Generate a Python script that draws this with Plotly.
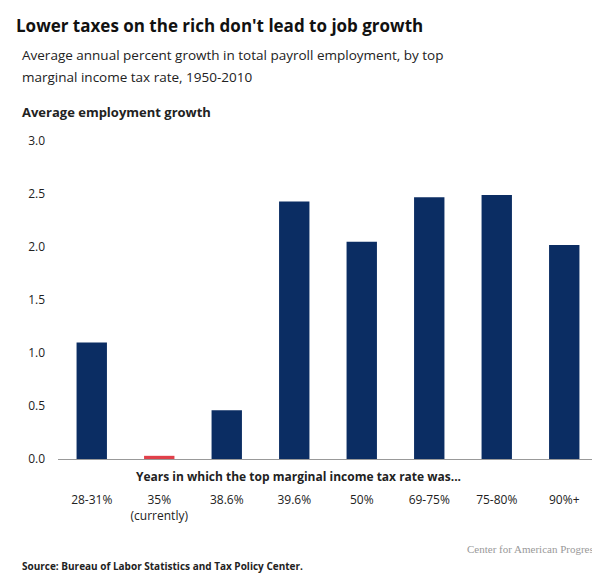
import plotly.graph_objects as go

categories = ["28-31%", "35%", "38.6%", "39.6%", "50%", "69-75%", "75-80%", "90%+"]
tick_labels = ["28-31%", "35%<br>(currently)", "38.6%", "39.6%", "50%", "69-75%", "75-80%", "90%+"]
growth = [1.10, 0.03, 0.46, 2.43, 2.05, 2.47, 2.49, 2.02]
bar_colors = ["#0b2d63", "#e0404a", "#0b2d63", "#0b2d63", "#0b2d63", "#0b2d63", "#0b2d63", "#0b2d63"]

fig = go.Figure(go.Bar(x=categories, y=growth, marker_color=bar_colors, marker_line_width=0))

fig.update_layout(
    width=600, height=578,
    margin=dict(l=50, r=10, t=133, b=127, autoexpand=False),
    paper_bgcolor="white", plot_bgcolor="white",
    font=dict(family="Open Sans", color="#222", size=12),
    bargap=0.55, showlegend=False,
)
fig.update_xaxes(
    tickvals=categories, ticktext=tick_labels, showgrid=False, automargin=False,
    showline=True, linecolor="#999", linewidth=1, ticks="",
    ticklabelstandoff=30, tickfont=dict(size=12),
)
fig.update_yaxes(
    range=[0, 3], dtick=0.5, tickformat=".1f", showgrid=False, zeroline=False,
    automargin=False, ticklabelstandoff=12, tickfont=dict(size=12),
)

# (text, x px, y px, size, colour)
annots = [
    ("<b>Lower taxes on the rich don't lead to job growth</b>", 6, 18, 17, "#111"),
    ("Average annual percent growth in total payroll employment, by top", 12, 47, 13.5, "#222"),
    ("marginal income tax rate, 1950-2010", 12, 69, 13.5, "#222"),
    ("<b>Average employment growth</b>", 12, 104, 13, "#222"),
    ("<b>Years in which the top marginal income tax rate was...</b>", 126, 468, 12, "#222"),
    ("<b>Source: Bureau of Labor Statistics and Tax Policy Center.</b>", 12, 558, 10, "#222"),
]
for text, px, py, size, color in annots:
    fig.add_annotation(text=text, x=(px - 50) / 540, y=(451 - py) / 318,
                       xref="paper", yref="paper", yanchor="middle", xanchor="left",
                       showarrow=False, font=dict(size=size, color=color))
fig.add_annotation(text="Center for American Progress", x=(592 - 50) / 540, y=(451 - 541) / 318,
                   xref="paper", yref="paper", xanchor="right", yanchor="middle", showarrow=False,
                   font=dict(family="Liberation Serif", size=11, color="#999"))

fig.write_html("out.html")
